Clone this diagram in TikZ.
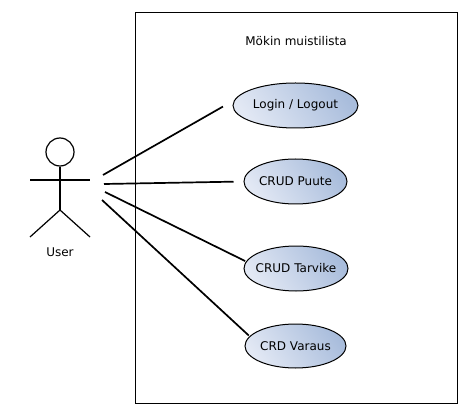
\documentclass[tikz,border=0pt]{standalone}
\usepackage{fontspec}
\setmainfont{DejaVu Sans}
\usetikzlibrary{shapes.geometric}
\definecolor{ucLight}{HTML}{E2E8F4}
\definecolor{ucDark}{HTML}{A9BDDC}
\tikzset{
  usecase/.style={ellipse,draw=black,line width=1pt,left color=ucLight,right color=ucDark,shading angle=125,inner ysep=0pt,inner xsep=-20pt,font=\fontsize{12}{14}\selectfont},
  assoc/.style={draw=black,line width=1.7pt},
  figure/.style={draw=black,line width=1.2pt},
  plainlabel/.style={inner sep=0pt,font=\fontsize{12}{14}\selectfont},
  sysbox/.style={draw=black,line width=0.8pt,inner sep=0pt}
}
\begin{document}
\begin{tikzpicture}[x=1pt,y=-1pt]
\useasboundingbox (0,0) rectangle (470,411);
\node[sysbox,minimum width=322pt,minimum height=391pt] (system) at (296,207.5) {};
\node[plainlabel] (title) at (296,41) {Mökin muistilista};
\node[usecase,minimum width=125pt,minimum height=45pt] (login) at (295.5,105.5) {Login / Logout};
\node[usecase,minimum width=103pt,minimum height=45pt] (puute) at (295.5,181.5) {CRUD Puute};
\node[usecase,minimum width=104pt,minimum height=45pt] (tarvike) at (296,268.5) {CRUD Tarvike};
\node[usecase,minimum width=101pt,minimum height=44pt] (varaus) at (295.5,346) {CRD Varaus};
% actor
\node[circle,figure,minimum size=28pt,inner sep=0pt] (head) at (60,152) {};
\coordinate (hip) at (60,210);
\coordinate (armL) at (30,180);
\coordinate (armR) at (90,180);
\coordinate (footL) at (30,237);
\coordinate (footR) at (90,237);
\draw[figure] (head.south) -- (hip);
\draw[figure] (armL) -- (armR);
\draw[figure] (footL) -- (hip) -- (footR);
\node[plainlabel] (user) at (60,252) {User};
% connectors
\coordinate (a1) at (103,175);
\coordinate (a2) at (104,184);
\coordinate (a3) at (105,192);
\coordinate (a4) at (102,200);
\draw[assoc,shorten >=13pt] (a1) -- (login.175);
\draw[assoc,shorten >=10pt] (a2) -- (puute.west);
\draw[assoc,shorten >=1pt] (a3) -- (tarvike.172);
\draw[assoc,shorten >=1pt] (a4) -- (varaus.168);
\end{tikzpicture}
\end{document}
